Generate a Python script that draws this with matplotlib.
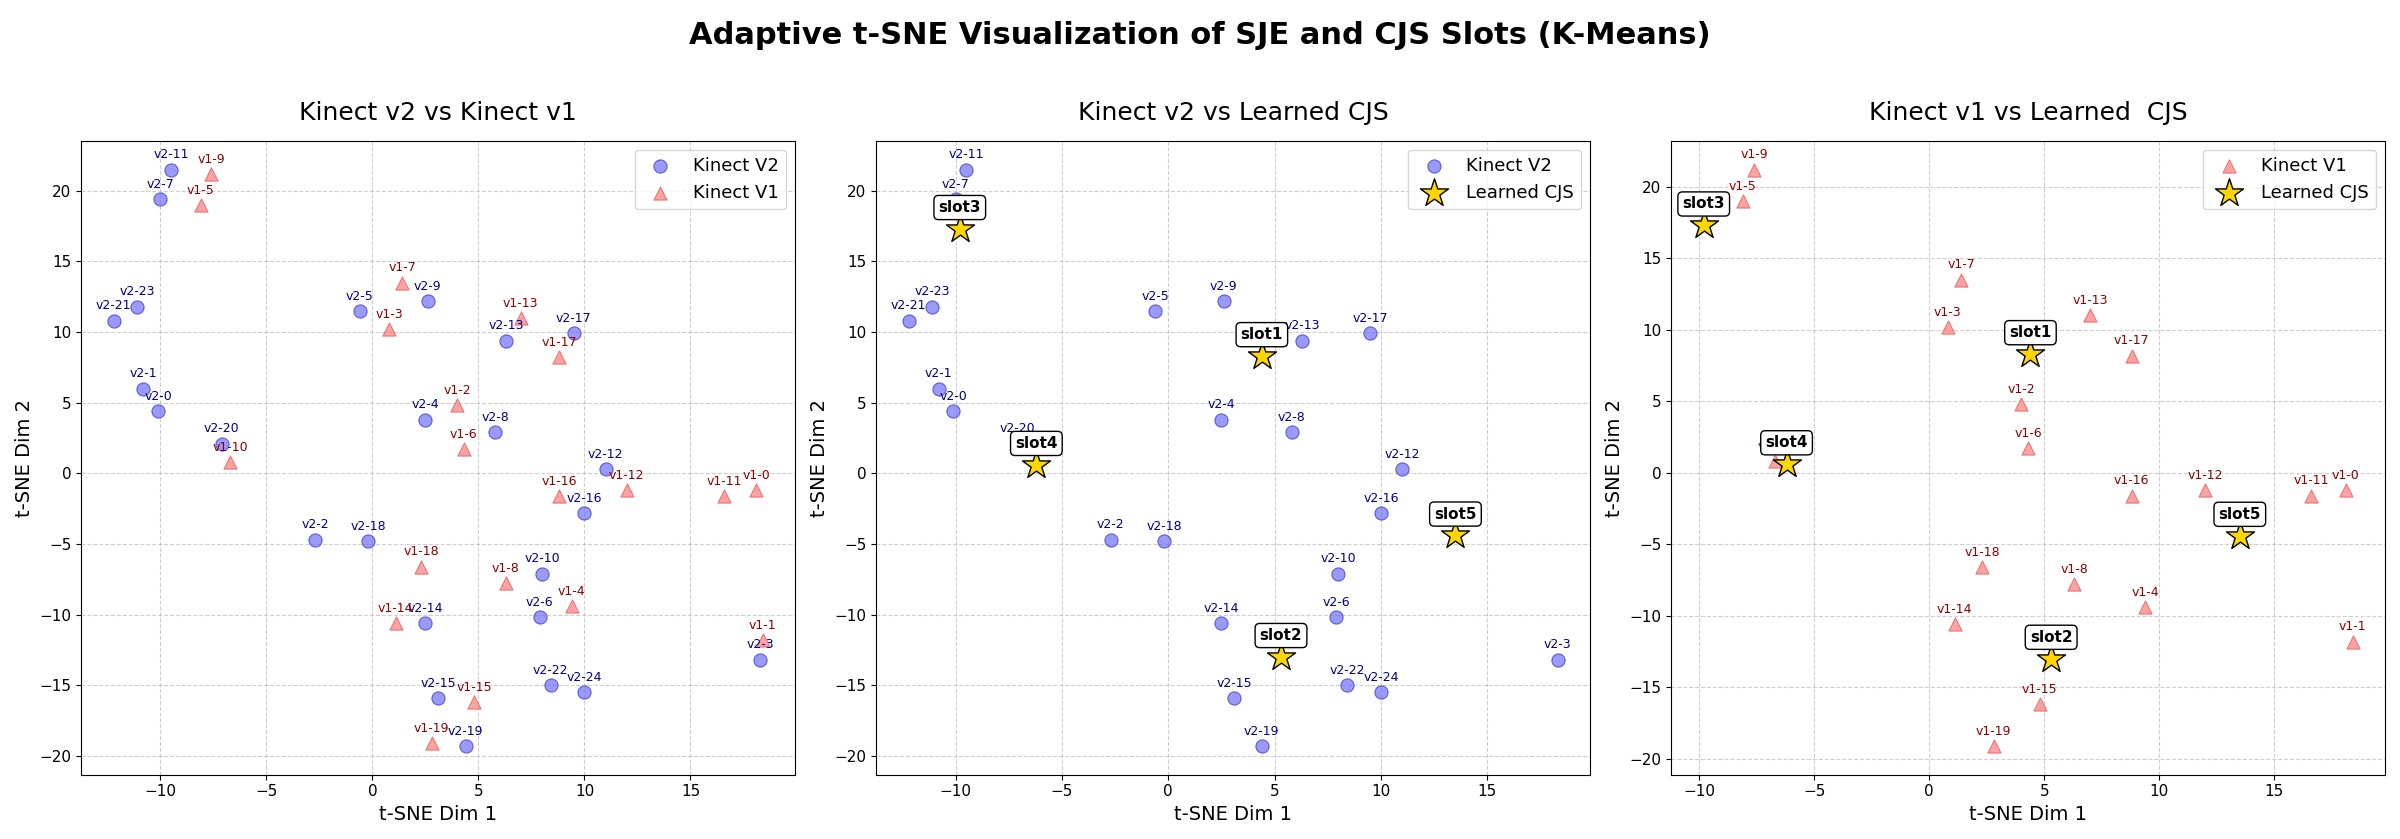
import matplotlib
matplotlib.use("Agg")
import matplotlib.pyplot as plt

v2_names = ["v2-0","v2-1","v2-2","v2-3","v2-4","v2-5","v2-6","v2-7","v2-8","v2-9","v2-10","v2-11","v2-12",
            "v2-13","v2-14","v2-15","v2-16","v2-17","v2-18","v2-19","v2-20","v2-21","v2-22","v2-23","v2-24"]
v2_x = [-10.1,-10.8,-2.7,18.3,2.5,-0.6,7.9,-10.0,5.8,2.6,8.0,-9.5,11.0,6.3,2.5,3.1,10.0,9.5,-0.2,4.4,-7.1,-12.2,8.4,-11.1,10.0]
v2_y = [4.4,6.0,-4.7,-13.2,3.8,11.5,-10.2,19.4,2.9,12.2,-7.1,21.5,0.3,9.4,-10.6,-15.9,-2.8,9.9,-4.8,-19.3,2.1,10.8,-15.0,11.8,-15.5]

v1_names = ["v1-0","v1-1","v1-2","v1-3","v1-4","v1-5","v1-6","v1-7","v1-8","v1-9","v1-10","v1-11","v1-12",
            "v1-13","v1-14","v1-15","v1-16","v1-17","v1-18","v1-19"]
v1_x = [18.1,18.4,4.0,0.8,9.4,-8.1,4.3,1.4,6.3,-7.6,-6.7,16.6,12.0,7.0,1.1,4.8,8.8,8.8,2.3,2.8]
v1_y = [-1.2,-11.8,4.8,10.2,-9.4,19.0,1.7,13.5,-7.8,21.2,0.8,-1.6,-1.2,11.0,-10.6,-16.2,-1.6,8.2,-6.6,-19.1]

slot_names = ["slot1","slot2","slot3","slot4","slot5"]
slot_x = [4.4,5.3,-9.8,-6.2,13.5]
slot_y = [8.3,-13.0,17.3,0.6,-4.4]

fig, axes = plt.subplots(1, 3, figsize=(24, 8.39), dpi=100)
fig.suptitle("Adaptive t-SNE Visualization of SJE and CJS Slots (K-Means)", fontsize=22, fontweight="bold", y=0.975)

def draw_v2(ax):
    ax.scatter(v2_x, v2_y, s=90, c="#6f6ff7", alpha=0.7, edgecolors="#3333cc", linewidths=0.8, label="Kinect V2", zorder=3)
    for n, x, y in zip(v2_names, v2_x, v2_y):
        ax.annotate(n, (x, y), xytext=(0, 6), textcoords="offset points", ha="center", va="bottom", fontsize=9, color="navy", zorder=4)

def draw_v1(ax):
    ax.scatter(v1_x, v1_y, s=90, marker="^", c="#ff7b7b", alpha=0.7, edgecolors="#e05555", linewidths=0.8, label="Kinect V1", zorder=3)
    for n, x, y in zip(v1_names, v1_x, v1_y):
        ax.annotate(n, (x, y), xytext=(0, 6), textcoords="offset points", ha="center", va="bottom", fontsize=9, color="darkred", zorder=4)

def draw_slots(ax):
    ax.scatter(slot_x, slot_y, s=450, marker="*", c="gold", edgecolors="black", linewidths=1.0, label="Learned CJS", zorder=5)
    for n, x, y in zip(slot_names, slot_x, slot_y):
        ax.annotate(n, (x, y), xytext=(0, 10), textcoords="offset points", ha="center", va="bottom", fontsize=11,
                    fontweight="bold", bbox=dict(boxstyle="round,pad=0.3", fc="white", ec="black"), zorder=6)

titles = ["Kinect v2 vs Kinect v1", "Kinect v2 vs Learned CJS", "Kinect v1 vs Learned  CJS"]
draw_v2(axes[0]); draw_v1(axes[0])
draw_v2(axes[1]); draw_slots(axes[1])
draw_v1(axes[2]); draw_slots(axes[2])
for ax, t in zip(axes, titles):
    ax.set_title(t, fontsize=18, pad=15)
    ax.set_xlabel("t-SNE Dim 1", fontsize=14)
    ax.set_ylabel("t-SNE Dim 2", fontsize=14)
    ax.grid(True, linestyle="--", alpha=0.6)
    ax.tick_params(labelsize=11)
    ax.legend(fontsize=13, loc="upper right")
plt.tight_layout(rect=[0, 0, 1, 0.95])
fig.savefig("out.png", dpi=100)
